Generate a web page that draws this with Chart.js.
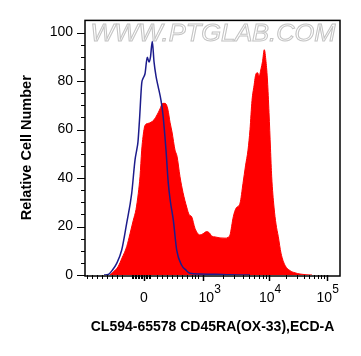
<!DOCTYPE html>
<html>
<head>
<meta charset="utf-8">
<script src="https://cdn.jsdelivr.net/npm/chart.js@4.4.1/dist/chart.umd.min.js"></script>
<style>
  body { margin: 0; background: #fff; }
  #caja { width: 361px; height: 356px; }
</style>
</head>
<body>
<div id="caja"><canvas id="grafica" width="361" height="356"></canvas></div>
<script>
// eje x: canal de visualizacion (0-255) de la escala biexponencial
var rojoX = [25, 29, 33, 37, 41.7, 45, 48.3, 51, 53.3, 55, 56.7, 58, 60, 63, 66, 69, 72, 75, 77, 79, 81, 83, 85, 87, 90, 92, 95, 98, 101.7, 104, 106.7, 110, 115, 118, 121.7, 124, 127, 130, 135, 140, 143, 145, 148.3, 151, 155, 158, 160.5, 163, 165, 167, 169, 171, 172.7, 174, 176, 177.5, 179.3, 181, 182.5, 184, 185.5, 186.7, 189, 191, 193.3, 196, 200, 205, 210, 215, 221, 227];
var rojoY = [0, 1.5, 3.4, 7, 11.7, 17, 22.6, 27, 33.7, 40.5, 51.5, 57, 61.7, 62.5, 63, 64, 66, 68.5, 70.5, 70.8, 70.5, 68, 63, 59, 51.5, 49, 40.5, 34, 28, 25, 24, 19.2, 16.5, 17, 17.9, 17.5, 16, 15.7, 15.3, 15.2, 15.5, 16.5, 24, 27.5, 29.6, 37.8, 45, 51.5, 60, 72, 78, 83, 83.4, 82, 85, 88, 92.9, 88, 80, 67, 52, 40.5, 28, 21, 15.8, 9, 4, 1.8, 0.9, 0.4, 0.1, 0];

var azulX = [19, 23.3, 27, 31.7, 36.7, 41.7, 46.7, 50, 51.7, 53, 54.5, 56.7, 58, 60, 62.3, 64, 65.5, 67.3, 69, 71, 73, 76, 78, 81, 83.3, 85.5, 88.3, 91.7, 96.7, 101, 105, 115, 130, 145, 165];
var azulY = [0, 0.2, 1.8, 4.8, 10.3, 21.4, 33.7, 47.4, 51.5, 55, 64, 79, 81, 83, 89.8, 87.8, 90, 96.3, 88, 82, 78, 72, 66, 51.5, 37.8, 30, 22.7, 10.3, 4, 2, 0.7, 0.4, 0.3, 0.1, 0];

// etiquetas del eje x: posicion, base, exponente, corrimiento
var xEtiquetas = [
    { pos: 59, base: '0', exp: '', corr: 0 },
    { pos: 117.7, base: '10', exp: '3', corr: 7 },
    { pos: 184, base: '10', exp: '4', corr: 1 },
    { pos: 241.7, base: '10', exp: '5', corr: 1 }
];
var xMenores = [1.7, 6.7, 11.7, 16.7, 21.7, 26.7, 31.7, 36.7,
    46.7, 48.2, 49.7, 51.2, 52.7, 54.2, 55.7, 57.2, 60.5, 62, 63.5, 65,
    71.7, 76.7, 81.7, 86.7, 91.7, 96.7, 101.7, 106.7, 110, 113.3];
var decadas = [[117.7, 66.3], [184, 57.7]];

var yTicks = [0, 20, 40, 60, 80, 100];
var yMenor = 5;

var tituloX = 'CL594-65578 CD45RA(OX-33),ECD-A';
var tituloY = 'Relative Cell Number';
var marcaAgua = 'WWW.PTGLAB.COM';

var fuente = "'Liberation Sans', Arial, sans-serif";

function puntos(xs, ys){
    return xs.map((v, i) => ({ x: v, y: ys[i] }));
}

var marcas = {
    id: 'marcas',
    beforeDatasetsDraw(chart){
        let ctx = chart.ctx, a = chart.chartArea;
        ctx.save();
        ctx.font = 'italic 24px ' + fuente;
        let w = ctx.measureText(marcaAgua).width;
        ctx.translate((a.left + a.right) / 2 + 0.5, 34);
        ctx.scale(245 / w, 1);
        ctx.textAlign = 'center';
        ctx.textBaseline = 'middle';
        ctx.strokeStyle = '#c4c4c4';
        ctx.lineWidth = 1;
        ctx.strokeText(marcaAgua, 0, 0);
        ctx.restore();
    },
    afterDraw(chart){
        let ctx = chart.ctx, a = chart.chartArea,
        x = chart.scales.x, y = chart.scales.y;
        ctx.save();
        ctx.strokeStyle = '#000';
        ctx.lineWidth = 1;

        // marcas del eje y
        for(let v = 0; v <= yTicks[yTicks.length - 1]; v += yMenor){
            let py = Math.round(y.getPixelForValue(v)) + 0.5,
            largo = yTicks.includes(v) ? 8 : 4;
            ctx.beginPath();
            ctx.moveTo(a.left - largo, py);
            ctx.lineTo(a.left, py);
            ctx.stroke();
        }

        // marcas del eje x
        let menores = xMenores.slice();
        decadas.forEach(d => {
            for(let k = 2; k < 10; k++){
                menores.push(d[0] + Math.log10(k) * d[1]);
            }
        });
        menores.forEach(v => {
            let px = Math.round(x.getPixelForValue(v)) + 0.5;
            ctx.beginPath();
            ctx.moveTo(px, a.bottom);
            ctx.lineTo(px, a.bottom + 4);
            ctx.stroke();
        });
        ctx.lineWidth = 1.5;
        xEtiquetas.forEach(e => {
            let px = Math.round(x.getPixelForValue(e.pos)) + 0.5;
            ctx.beginPath();
            ctx.moveTo(px, a.bottom);
            ctx.lineTo(px, a.bottom + 6);
            ctx.stroke();
        });

        // marco
        ctx.lineWidth = 1.5;
        ctx.strokeRect(a.left, a.top, a.right - a.left, a.bottom - a.top + 1);

        // etiquetas x con exponente
        ctx.fillStyle = '#000';
        ctx.textBaseline = 'middle';
        ctx.textAlign = 'left';
        xEtiquetas.forEach(e => {
            ctx.font = '14px ' + fuente;
            let wb = ctx.measureText(e.base).width;
            ctx.font = '12px ' + fuente;
            let we = e.exp ? ctx.measureText(e.exp).width : 0;
            let inicio = x.getPixelForValue(e.pos) + e.corr - (wb + we) / 2;
            ctx.font = '14px ' + fuente;
            ctx.fillText(e.base, inicio, 298);
            if(e.exp){
                ctx.font = '12px ' + fuente;
                ctx.fillText(e.exp, inicio + wb, 290);
            }
        });
        ctx.restore();
    }
};

let lienzo = document.getElementById('grafica').getContext('2d');

var grafica = new Chart(lienzo, {
    type: 'scatter',
    data: {
        datasets: [
            {
                label: 'CD45RA',
                data: puntos(rojoX, rojoY),
                showLine: true,
                fill: 'origin',
                backgroundColor: '#ff0000',
                borderColor: '#ff0000',
                borderWidth: 1,
                pointRadius: 0,
                cubicInterpolationMode: 'monotone',
                order: 2
            },
            {
                label: 'Isotipo',
                data: puntos(azulX, azulY),
                showLine: true,
                fill: false,
                borderColor: '#1c1c8c',
                borderWidth: 1.5,
                pointRadius: 0,
                cubicInterpolationMode: 'monotone',
                order: 1
            }
        ]
    },
    options: {
        responsive: false,
        devicePixelRatio: 1,
        animation: false,
        events: [],
        layout: { padding: { top: 20, right: 21, left: 0, bottom: 0 } },
        plugins: {
            legend: { display: false },
            tooltip: { enabled: false }
        },
        scales: {
            x: {
                type: 'linear',
                min: 0,
                max: 255,
                grid: { display: false, drawTicks: false },
                border: { display: false },
                ticks: { display: false },
                afterFit: s => { s.height = 81; },
                title: {
                    display: true,
                    text: tituloX,
                    color: '#000',
                    font: { family: fuente, size: 14, weight: 'bold' },
                    padding: { top: 0, bottom: 20 }
                }
            },
            y: {
                min: 0,
                max: 105,
                afterBuildTicks: s => { s.ticks = yTicks.map(v => ({ value: v })); },
                grid: { display: false, drawTicks: false },
                border: { display: false },
                ticks: {
                    color: '#000',
                    padding: 12,
                    font: { family: fuente, size: 14 }
                },
                afterFit: s => { s.width = 85; },
                title: {
                    display: true,
                    text: tituloY,
                    color: '#000',
                    font: { family: fuente, size: 14.5, weight: 'bold' },
                    padding: { top: 18, bottom: 0 }
                }
            }
        }
    },
    plugins: [marcas]
});
</script>
</body>
</html>
